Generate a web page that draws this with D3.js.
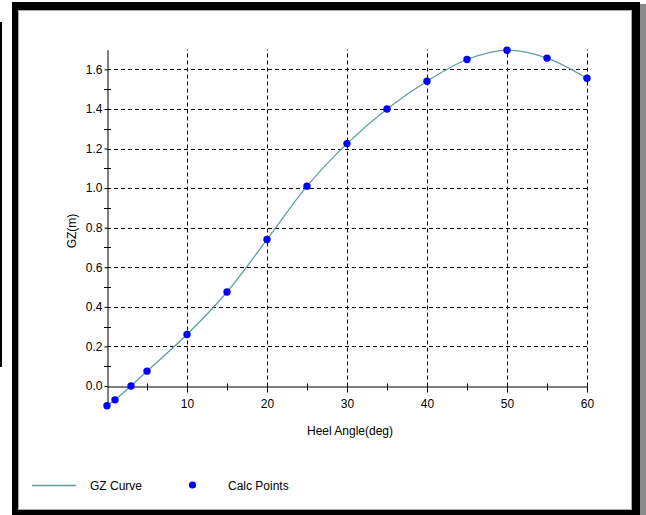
<!DOCTYPE html>
<html>
<head>
<meta charset="utf-8">
<script src="https://cdn.jsdelivr.net/npm/d3@7"></script>
<style>
  body { margin: 0; background: #fff; }
  svg { display: block; }
  text { font-family: "Liberation Sans", Arial, sans-serif; font-size: 12px; fill: #000; }
</style>
</head>
<body>
<div id="chart"></div>
<script>
// data
let heelAngles = [0, 1, 3, 5, 10, 15, 20, 25, 30, 35, 40, 45, 50, 55, 60];
let gzValues = [-0.10, -0.07, 0.0, 0.075, 0.26, 0.475, 0.74, 1.01, 1.225, 1.40, 1.54, 1.65, 1.697, 1.657, 1.555];

let xMajor = [10, 20, 30, 40, 50, 60];
let xMinor = [5, 15, 25, 35, 45, 55];
let yMajor = [0.0, 0.2, 0.4, 0.6, 0.8, 1.0, 1.2, 1.4, 1.6];
let yMinor = [0.1, 0.3, 0.5, 0.7, 0.9, 1.1, 1.3, 1.5];

let legendNames = ["GZ Curve", "Calc Points"];

let W = 646, H = 515;

let svg = d3.select("#chart")
    .append("svg")
    .attr("width", W)
    .attr("height", H);

// FRAME //
    // stray line at far left
    svg.append("line")
        .attr("x1", 1).attr("x2", 1)
        .attr("y1", 22).attr("y2", 367)
        .attr("stroke", "#000").attr("stroke-width", 2);

    // shadow at right
    svg.append("rect")
        .attr("x", 640).attr("y", 4).attr("width", 6).attr("height", 511)
        .attr("fill", "#8a8a8a");

    // thick black border
    svg.append("rect")
        .attr("x", 12).attr("y", 2).attr("width", 628).attr("height", 513)
        .attr("fill", "#000");

    // white inner panel
    svg.append("rect")
        .attr("x", 18.5).attr("y", 10.5).attr("width", 613).attr("height", 499)
        .attr("fill", "#fff")
        .attr("stroke", "#a8a8a8");

// SCALES //
    let x = d3.scaleLinear()
        .domain([0, 60])
        .range([107, 587]);

    let y = d3.scaleLinear()
        .domain([-0.1, 1.7])
        .range([405.8, 49.6]);

    let y0 = Math.round(y(0)) + 0.5;   // where the x axis sits

// GRID //
    // horizontal dashed lines
    svg.append("g")
        .selectAll("line")
        .data(yMajor.filter(d => d > 0))
        .enter()
        .append("line")
        .attr("x1", x(0)).attr("x2", x(60))
        .attr("y1", d => Math.round(y(d)) + 0.5)
        .attr("y2", d => Math.round(y(d)) + 0.5)
        .attr("stroke", "#000")
        .attr("stroke-dasharray", "4,3");

    // vertical dashed lines
    svg.append("g")
        .selectAll("line")
        .data(xMajor)
        .enter()
        .append("line")
        .attr("x1", d => Math.round(x(d)) + 0.5)
        .attr("x2", d => Math.round(x(d)) + 0.5)
        .attr("y1", y0).attr("y2", y(1.7))
        .attr("stroke", "#000")
        .attr("stroke-dasharray", "4,3");

// AXES //
    // y axis
    let yAxis = svg.append("g")
        .attr("transform", "translate(" + (Math.round(x(0)) + 0.5) + ",0)")
        .call(d3.axisLeft(y)
            .tickValues(yMajor)
            .tickFormat(d3.format(".1f"))
            .tickSize(3)
            .tickSizeOuter(0)
            .tickPadding(2));
    yAxis.selectAll("text").style("font-family", null).style("font-size", null).attr("font-family", null).attr("font-size", null);
    yAxis.attr("font-family", null).attr("font-size", null);

    // y minor ticks, crossing the axis
    svg.append("g")
        .selectAll("line")
        .data(yMinor)
        .enter()
        .append("line")
        .attr("x1", x(0) - 3).attr("x2", x(0) + 4)
        .attr("y1", d => Math.round(y(d)) + 0.5)
        .attr("y2", d => Math.round(y(d)) + 0.5)
        .attr("stroke", "#000");

    // x axis at zero
    let xAxis = svg.append("g")
        .attr("transform", "translate(0," + y0 + ")")
        .call(d3.axisBottom(x)
            .tickValues(xMajor)
            .tickFormat(d3.format("d"))
            .tickSize(6)
            .tickSizeOuter(0)
            .tickPadding(7));
    xAxis.attr("font-family", null).attr("font-size", null);

    // x minor ticks
    svg.append("g")
        .selectAll("line")
        .data(xMinor)
        .enter()
        .append("line")
        .attr("x1", d => Math.round(x(d)) + 0.5)
        .attr("x2", d => Math.round(x(d)) + 0.5)
        .attr("y1", y0 - 3).attr("y2", y0 + 4)
        .attr("stroke", "#000");

    // axis titles
    svg.append("text")
        .attr("x", 350)
        .attr("y", 435)
        .attr("text-anchor", "middle")
        .text("Heel Angle(deg)");

    svg.append("text")
        .attr("transform", "translate(76,231) rotate(-90)")
        .attr("text-anchor", "middle")
        .text("GZ(m)");

// CURVE + POINTS //
    let pts = heelAngles.map((a, i) => [a, gzValues[i]]);

    svg.append("path")
        .datum(pts)
        .attr("fill", "none")
        .attr("stroke", "#5f9ea0")
        .attr("stroke-width", 1.3)
        .attr("d", d3.line()
            .x(d => x(d[0]))
            .y(d => y(d[1]))
            .curve(d3.curveCatmullRom.alpha(0.5)));

    svg.append("g")
        .selectAll("circle")
        .data(pts)
        .enter()
        .append("circle")
        .attr("cx", d => x(d[0]))
        .attr("cy", d => y(d[1]))
        .attr("r", 3.7)
        .attr("fill", "#0000ff");

// LEGEND //
    svg.append("line")
        .attr("x1", 32).attr("x2", 76)
        .attr("y1", 485.5).attr("y2", 485.5)
        .attr("stroke", "#5f9ea0")
        .attr("stroke-width", 1.3);

    svg.append("circle")
        .attr("cx", 192.5).attr("cy", 485)
        .attr("r", 3.6)
        .attr("fill", "#0000ff");

    svg.selectAll("legendText")
        .data(legendNames)
        .enter()
        .append("text")
        .attr("x", (d, i) => i == 0 ? 90 : 228)
        .attr("y", 490)
        .text(d => d);
</script>
</body>
</html>
